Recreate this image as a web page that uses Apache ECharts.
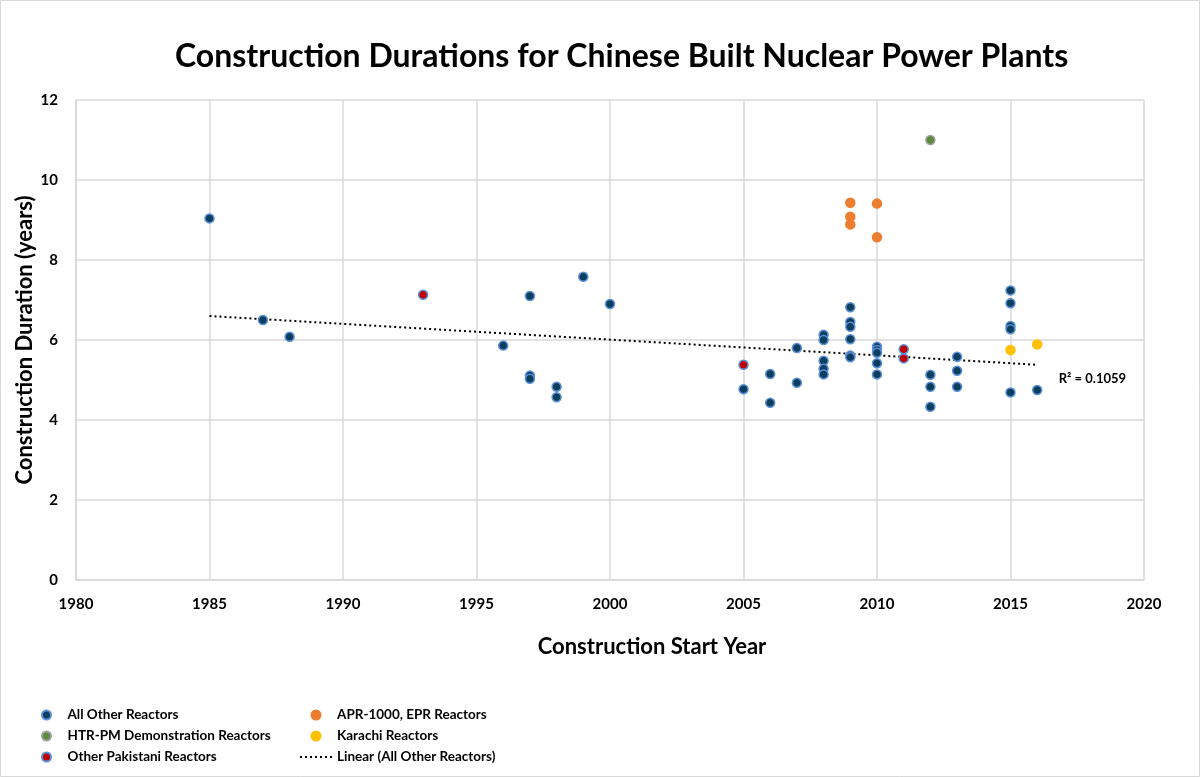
<!DOCTYPE html>
<html>
<head>
<meta charset="utf-8">
<script src="https://cdn.jsdelivr.net/npm/echarts@6/dist/echarts.min.js"></script>
<style>
html,body{margin:0;padding:0;background:#fff;}
#c{width:1200px;height:777px;}
</style>
</head>
<body>
<div id="c"></div>
<script>
// Data
const allOtherReactors = [
  [1985, 9.04], [1987, 6.50], [1988, 6.08], [1996, 5.86],
  [1997, 7.10], [1997, 5.11], [1997, 5.03], [1998, 4.83], [1998, 4.57],
  [1999, 7.58], [2000, 6.90], [2005, 4.77], [2006, 5.15], [2006, 4.43],
  [2007, 5.80], [2007, 4.93],
  [2008, 6.13], [2008, 6.00], [2008, 5.48], [2008, 5.28], [2008, 5.14],
  [2009, 6.82], [2009, 6.45], [2009, 6.33], [2009, 6.02], [2009, 5.61], [2009, 5.57],
  [2010, 5.83], [2010, 5.75], [2010, 5.68], [2010, 5.42], [2010, 5.14],
  [2012, 5.13], [2012, 4.83], [2012, 4.33],
  [2013, 5.58], [2013, 5.23], [2013, 4.83],
  [2015, 7.24], [2015, 6.92], [2015, 6.35], [2015, 6.27], [2015, 4.69],
  [2016, 4.75]
];
const htrPmReactors = [[2012, 11.0]];
const aprEprReactors = [[2009, 9.43], [2009, 9.08], [2009, 8.89], [2010, 9.41], [2010, 8.57]];
const karachiReactors = [[2015, 5.75], [2016, 5.89]];
const otherPakistaniReactors = [[1993, 7.13], [2005, 5.38], [2011, 5.77], [2011, 5.54]];
const linearTrend = [[1985, 6.60], [2016, 5.38]];
const rSquaredText = 'R² = 0.1059';

const FONT = 'Lato';
const chart = echarts.init(document.getElementById('c'));

function scatter(name, data, color, border) {
  return {
    name: name, type: 'scatter', data: data, symbolSize: 9,
    itemStyle: {color: color, borderColor: border, borderWidth: 1.5, opacity: 1},
    z: 3
  };
}

const legendText = {fontFamily: FONT, fontSize: 13.5, fontWeight: 'bold', color: '#000'};

chart.setOption({
  animation: false,
  backgroundColor: '#fff',
  textStyle: {fontFamily: FONT},
  title: {
    text: 'Construction Durations for Chinese Built Nuclear Power Plants',
    left: 170, top: 36,
    textStyle: {fontFamily: FONT, fontWeight: 'bold', fontSize: 32, color: '#000'}
  },
  graphic: [{
    type: 'rect', shape: {x: 0.5, y: 0.5, width: 1199, height: 776},
    style: {fill: 'none', stroke: '#d9d9d9', lineWidth: 1}, silent: true
  }],
  grid: {left: 76, right: 56, top: 100, bottom: 197},
  xAxis: {
    type: 'value', min: 1980, max: 2020, interval: 5,
    name: 'Construction Start Year', nameLocation: 'middle', nameGap: 56,
    nameTextStyle: {fontFamily: FONT, fontWeight: 'bold', fontSize: 22, color: '#000',
      padding: [0, 0, 0, 84]},
    axisLine: {show: true, lineStyle: {color: '#d9d9d9', width: 1.5}},
    axisTick: {show: false},
    axisLabel: {fontFamily: FONT, fontWeight: 'bold', fontSize: 15, color: '#000', margin: 17,
      formatter: function (v) { return String(v); }},
    splitLine: {show: true, lineStyle: {color: '#d9d9d9', width: 1.5}}
  },
  yAxis: {
    type: 'value', min: 0, max: 12, interval: 2,
    name: 'Construction Duration (years)', nameLocation: 'middle', nameGap: 40,
    nameMoveOverlap: false,
    nameTextStyle: {fontFamily: FONT, fontWeight: 'bold', fontSize: 22, color: '#000'},
    axisLine: {show: true, lineStyle: {color: '#d9d9d9', width: 1.5}},
    axisTick: {show: false},
    axisLabel: {fontFamily: FONT, fontWeight: 'bold', fontSize: 15, color: '#000', margin: 18},
    splitLine: {show: true, lineStyle: {color: '#d9d9d9', width: 1.5}}
  },
  legend: [{
    orient: 'vertical', left: 36, top: 703, itemGap: 7, itemWidth: 32, itemHeight: 9,
    textStyle: legendText,
    data: ['All Other Reactors', 'HTR-PM Demonstration Reactors', 'Other Pakistani Reactors']
  }, {
    orient: 'vertical', left: 294, top: 703, itemGap: 7, itemWidth: 32, itemHeight: 9,
    textStyle: legendText,
    data: ['APR-1000, EPR Reactors', 'Karachi Reactors', 'Linear (All Other Reactors)']
  }],
  series: [
    scatter('All Other Reactors', allOtherReactors, '#0c3f5f', '#5b8fd6'),
    scatter('HTR-PM Demonstration Reactors', htrPmReactors, '#5b8a3c', '#a0a0a0'),
    scatter('Other Pakistani Reactors', otherPakistaniReactors, '#c00000', '#5b8fd6'),
    scatter('APR-1000, EPR Reactors', aprEprReactors, '#ed7d31', '#ed7d31'),
    scatter('Karachi Reactors', karachiReactors, '#ffc000', '#ffc000'),
    {
      name: 'Linear (All Other Reactors)', type: 'line',
      data: linearTrend.map(function (p, i) {
        if (i === linearTrend.length - 1) {
          return {value: p, label: {
            show: true, position: 'right', offset: [16, 14], formatter: rSquaredText,
            fontFamily: FONT, fontWeight: 'bold', fontSize: 13, color: '#000'
          }};
        }
        return p;
      }),
      symbol: 'circle', symbolSize: 1, showSymbol: true, z: 2,
      lineStyle: {color: '#000', width: 2, type: [2, 3]},
      itemStyle: {color: 'rgba(0,0,0,0)', borderWidth: 0}
    }
  ]
});
</script>
</body>
</html>
